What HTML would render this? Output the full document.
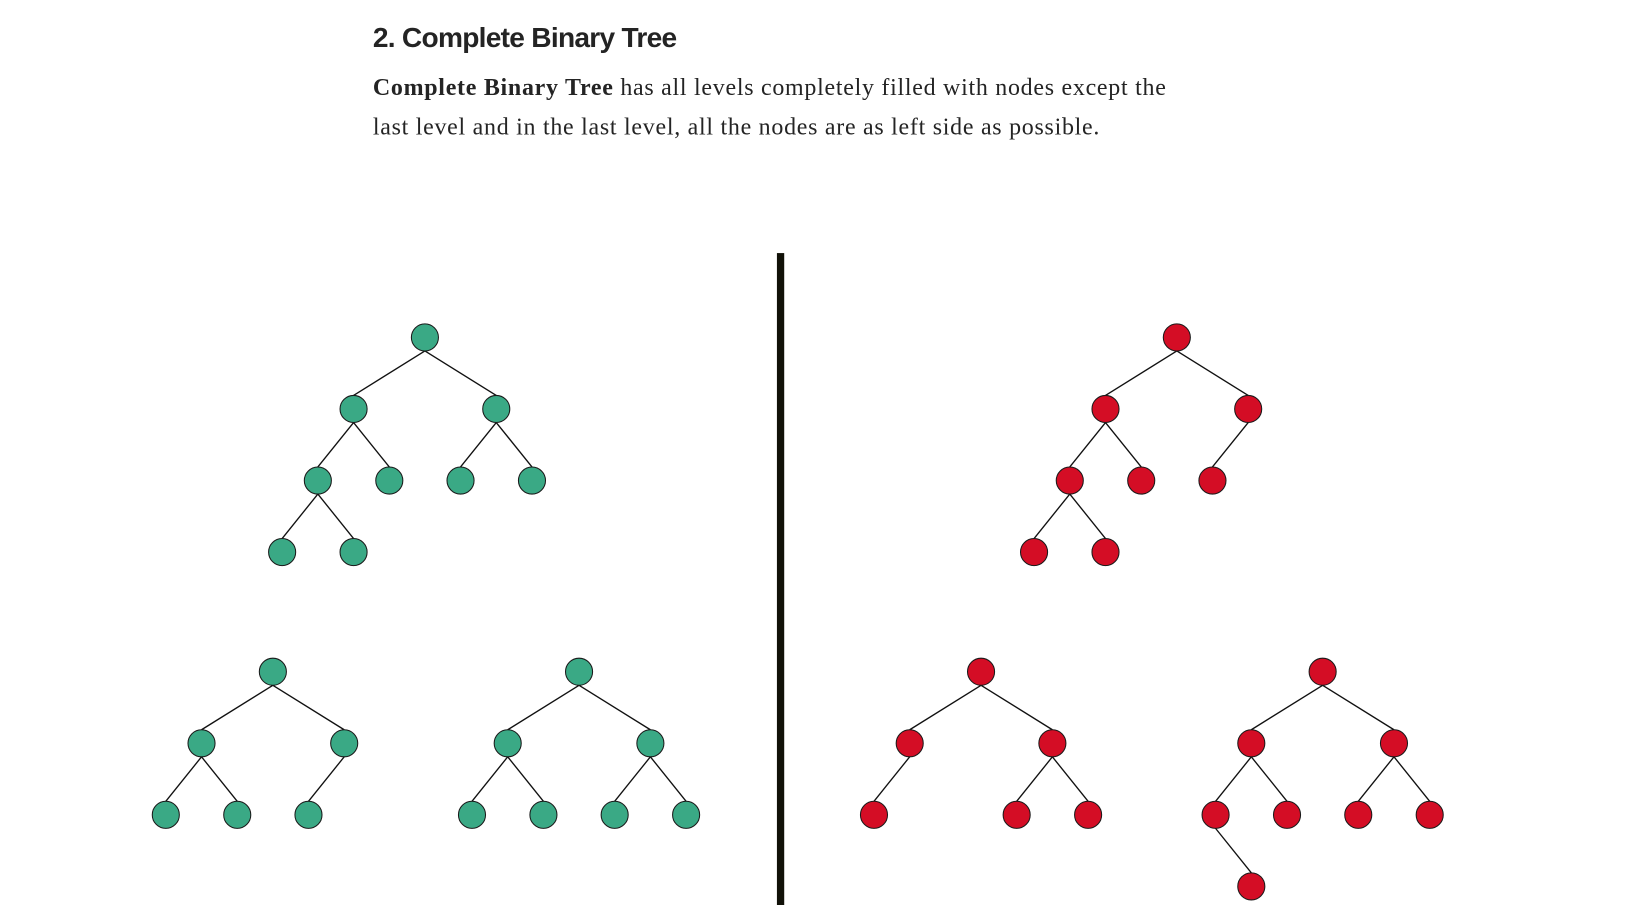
<!DOCTYPE html>
<html><head><meta charset="utf-8"><style>
html,body{margin:0;padding:0;background:#fff;width:1633px;height:905px;overflow:hidden}
#wrap{position:absolute;left:0;top:0;width:1568px;height:869px;transform:scale(1.04145);transform-origin:0 0}
h2{position:absolute;left:358px;top:21px;margin:0;font:bold 27px "Liberation Sans",sans-serif;letter-spacing:-0.7px;color:#242424;white-space:nowrap}
p{position:absolute;left:358px;top:65px;margin:0;font:23px/38px "Liberation Serif",serif;letter-spacing:0.7px;color:#242424;white-space:nowrap}
svg{position:absolute;left:0;top:0}
</style></head><body>
<div id="wrap">
<h2>2. Complete Binary Tree</h2>
<p><b>Complete Binary Tree</b> has all levels completely filled with nodes except the<br>last level and in the last level, all the nodes are as left side as possible.</p>
<svg id="fig" width="1568" height="869">
<rect x="746" y="243" width="7" height="626" fill="#111108"/>
</svg>
</div>
<script>
const treeRootsX=[408,262,556,1130,942,1270];
const treeRootsY=[324,645,645,324,645,645];
const treeColors=["green","green","green","red","red","red"];
const treeNodes=[
["","L","R","LL","LR","RL","RR","LLL","LLR"],
["","L","R","LL","LR","RL"],
["","L","R","LL","LR","RL","RR"],
["","L","R","LL","LR","RL","LLL","LLR"],
["","L","R","LL","RL","RR"],
["","L","R","LL","LR","RL","RR","LLR"]
];
const fills={green:"#3aa985",red:"#d40d25"};
const NS="http://www.w3.org/2000/svg";
const svg=document.getElementById('fig');
function pos(t,p){let x=treeRootsX[t];for(let i=0;i<p.length;i++){const d=i===0?68.5:34.3;x+=p[i]==="L"?-d:d;}return[x,treeRootsY[t]+p.length*68.7];}
treeNodes.forEach((nodes,t)=>{
 nodes.forEach(p=>{if(!p)return;const a=pos(t,p.slice(0,-1)),b=pos(t,p);
  const l=document.createElementNS(NS,'line');
  l.setAttribute('x1',a[0]);l.setAttribute('y1',a[1]+13);l.setAttribute('x2',b[0]);l.setAttribute('y2',b[1]-13);
  l.setAttribute('stroke','#111');l.setAttribute('stroke-width','1.3');
  
  
  svg.appendChild(l);});
 nodes.forEach(p=>{const b=pos(t,p);
  const c=document.createElementNS(NS,'circle');
  c.setAttribute('cx',b[0]);c.setAttribute('cy',b[1]);c.setAttribute('r',13);
  c.setAttribute('fill',fills[treeColors[t]]);c.setAttribute('stroke','#1a1a1a');c.setAttribute('stroke-width','1');
  
  
  svg.appendChild(c);});
});
</script>
</body></html>
